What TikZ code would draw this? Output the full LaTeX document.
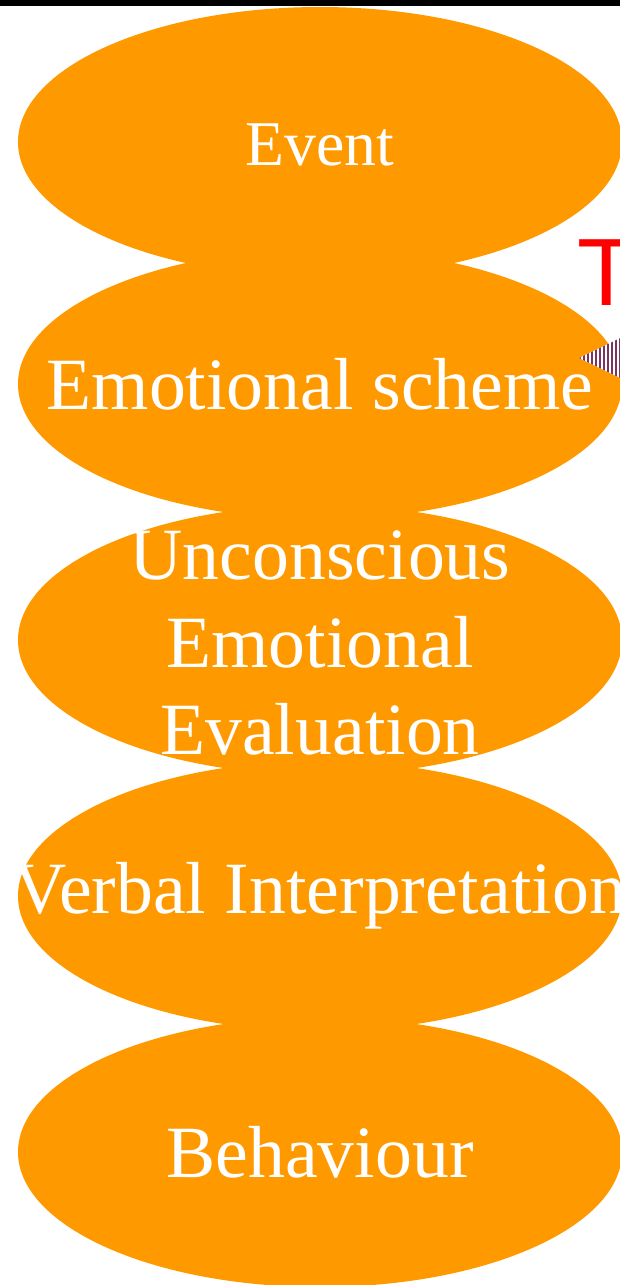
\documentclass[tikz,border=0pt]{standalone}
\usepackage{fontspec}
\setmainfont{Liberation Serif}
\newfontfamily\arialfont{Liberation Sans}
\usepackage[dvipsnames]{xcolor}
\usetikzlibrary{shapes.geometric,patterns.meta}
\definecolor{blob}{RGB}{255,153,0}
\definecolor{stripe}{RGB}{122,52,96}

\begin{document}
\begin{tikzpicture}[x=1bp,y=-1bp,>=stealth,node distance=256bp,
  main node/.style={ellipse,fill=blob,minimum width=604bp,minimum height=270bp,inner sep=0pt},
  txt/.style={text=white,align=center,inner sep=0pt,font=\fontsize{74}{88}\selectfont}]

            \clip (0,0) rectangle (620,1285);
            \fill[black] (0,0) rectangle (620,6);

            \node[main node] (1) at (320,142) [label={[txt,font=\fontsize{64}{77}\selectfont,yshift=-3bp]center:Event}]{};
            \node[main node] (2) [below of = 1, node distance=242bp, label={[txt]center:Emotional scheme}]{};
            \node[main node] (3) [below of = 2, label={[txt,yshift=-3bp]center:Unconscious\\Emotional\\Evaluation}]{};
            \node[main node] (4) [below of = 3, label={[txt]center:Verbal Interpretation}]{};
            \node[main node] (5) [below of = 4, label={[txt]center:Behaviour}]{};

            % red letter and striped head on the right
            \node[anchor=base west, inner sep=0pt, text=red, font=\arialfont\fontsize{96}{115}\selectfont] (t) at (577,305) {T};
            \coordinate (tip) at (579,358);
            \path[fill=white, postaction={pattern={Lines[angle=90,distance=4bp,line width=2bp]}, pattern color=stripe}]
                (tip) -- ++(60,-29) -- ++(0,58) -- cycle;

            ;
        \end{tikzpicture}
\end{document}
